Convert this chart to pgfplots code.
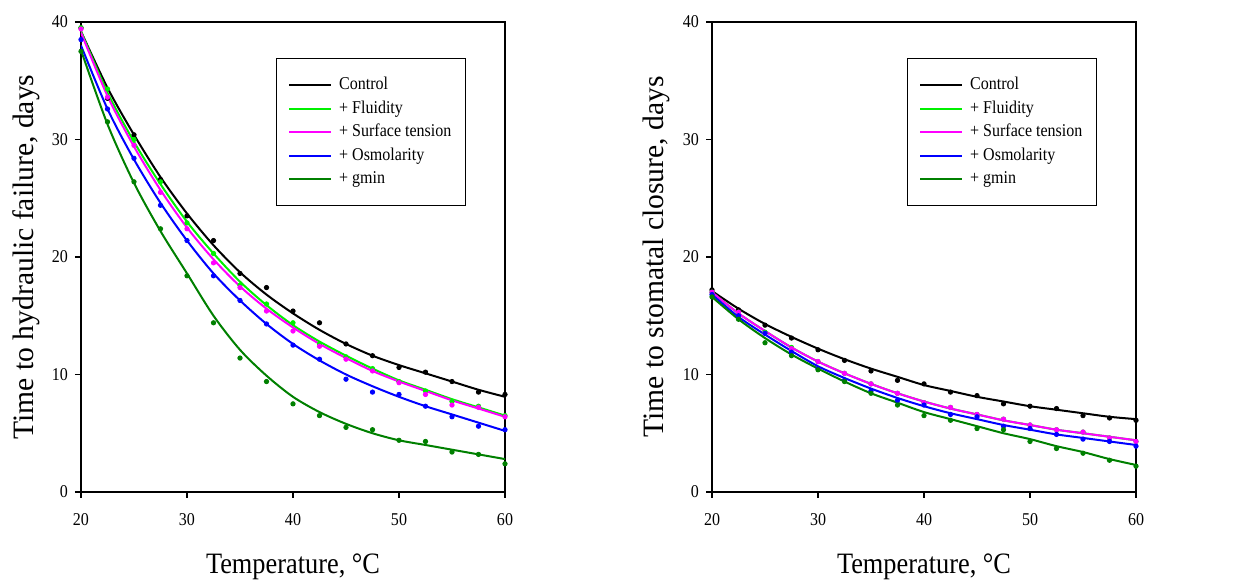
\documentclass[border=0pt]{standalone}
\usepackage{fontspec}
\setmainfont{Liberation Serif}[FakeStretch=0.89]
\newfontfamily\yfont{Liberation Serif}
\usepackage{pgfplots}
\usepackage{pgfplotstable}
\pgfplotsset{compat=1.18}

\definecolor{cCtl}{RGB}{0,0,0}
\definecolor{cFlu}{RGB}{0,240,0}
\definecolor{cSur}{RGB}{255,0,255}
\definecolor{cOsm}{RGB}{0,0,255}
\definecolor{cGmn}{RGB}{0,128,0}

% measured points, hydraulic failure
\pgfplotstableread{
T    c    f    s    o    g
20   39.5 39.5 39.4 38.5 37.5
22.5 33.5 34.3 33.6 32.6 31.5
25   30.4 30.0 29.5 28.4 26.4
27.5 26.6 26.4 25.5 24.4 22.4
30   23.5 22.9 22.4 21.4 18.4
32.5 21.4 20.3 19.5 18.4 14.4
35   18.6 17.6 17.4 16.3 11.4
37.5 17.4 16.0 15.4 14.3 9.4
40   15.4 14.4 13.7 12.5 7.5
42.5 14.4 12.6 12.4 11.3 6.5
45   12.6 11.5 11.3 9.6  5.5
47.5 11.6 10.5 10.3 8.5  5.3
50   10.6 9.4  9.3  8.3  4.4
52.5 10.2 8.6  8.3  7.3  4.3
55   9.4  7.7  7.4  6.4  3.4
57.5 8.5  7.3  7.2  5.6  3.2
60   8.3  6.5  6.4  5.3  2.4
}\ptsA
% fitted curves, hydraulic failure
\pgfplotstableread{
T    c    f    s    o    g
20   39.2 39.2 39.1 38.0 37.6
22.5 34.4 34.0 33.7 32.6 31.3
25   30.4 29.8 29.4 28.3 26.3
27.5 26.8 26.2 25.7 24.6 22.2
30   23.7 23.0 22.5 21.4 18.6
32.5 21.0 20.3 19.8 18.6 15.0
35   18.7 17.9 17.5 16.3 12.1
37.5 16.8 15.9 15.6 14.3 9.9
40   15.2 14.2 14.0 12.6 8.1
42.5 13.8 12.8 12.6 11.2 6.8
45   12.6 11.6 11.4 10.0 5.8
47.5 11.6 10.5 10.3 9.0  5.0
50   10.8 9.5  9.4  8.1  4.4
52.5 10.1 8.7  8.6  7.3  4.0
55   9.4  7.9  7.8  6.6  3.6
57.5 8.7  7.2  7.1  5.9  3.2
60   8.1  6.5  6.4  5.2  2.8
}\fitA
% measured points, stomatal closure
\pgfplotstableread{
T    c    f    s    o    g
20   17.2 17.0 17.0 16.8 16.6
22.5 15.5 15.3 15.3 15.0 14.7
25   14.2 13.6 13.5 13.5 12.7
27.5 13.1 12.3 12.2 11.9 11.6
30   12.1 11.1 11.1 10.5 10.4
32.5 11.2 10.1 10.1 9.5  9.4
35   10.3 9.2  9.2  8.6  8.4
37.5 9.5  8.4  8.4  7.8  7.4
40   9.2  7.6  7.6  7.4  6.5
42.5 8.5  7.2  7.2  6.6  6.1
45   8.2  6.6  6.6  6.4  5.4
47.5 7.5  6.2  6.2  5.6  5.3
50   7.3  5.7  5.7  5.4  4.3
52.5 7.1  5.3  5.3  4.9  3.7
55   6.5  5.1  5.1  4.5  3.3
57.5 6.3  4.6  4.6  4.3  2.7
60   6.1  4.3  4.3  3.9  2.2
}\ptsB
% fitted curves, stomatal closure
\pgfplotstableread{
T    c    f    s    o    g
20   17.1 17.0 17.0 16.8 16.6
22.5 15.6 15.2 15.2 14.9 14.7
25   14.3 13.7 13.7 13.4 13.1
27.5 13.2 12.3 12.3 12.0 11.7
30   12.2 11.1 11.1 10.7 10.5
32.5 11.3 10.1 10.1 9.7  9.4
35   10.5 9.2  9.2  8.8  8.4
37.5 9.8  8.4  8.4  8.0  7.6
40   9.1  7.7  7.7  7.3  6.8
42.5 8.6  7.1  7.1  6.7  6.2
45   8.1  6.6  6.6  6.2  5.6
47.5 7.7  6.1  6.1  5.7  5.0
50   7.3  5.7  5.7  5.3  4.5
52.5 7.0  5.3  5.3  4.9  3.9
55   6.7  5.0  5.0  4.6  3.4
57.5 6.4  4.7  4.7  4.3  2.8
60   6.2  4.4  4.4  4.0  2.3
}\fitB

\pgfplotsset{
  panel/.style={
    scale only axis,
    width=212pt, height=235pt,
    xmin=20, xmax=60, ymin=0, ymax=40,
    xtick={20,30,...,60}, ytick={0,10,...,40},
    tick align=outside, xtick pos=left, ytick pos=left,
    major tick length=3pt,
    axis line style={line width=0.6pt},
    tick style={line width=0.6pt, black},
    ticklabel style={font=\fontsize{9}{10}\selectfont},
    xticklabel style={yshift=-4pt},
    /pgf/number format/assume math mode=true,
    xlabel={Temperature, °C},
    xlabel style={at={(axis description cs:0.5,-0.16)}, anchor=center,
      font=\fontsize{14.8}{16}\selectfont},
    ylabel style={at={(axis description cs:-0.13,0.5)}, anchor=center,
      rotate=0, font=\yfont\fontsize{14.8}{16}\selectfont},
    legend style={at={(axis description cs:0.908,0.923)}, anchor=north east,
      draw=black, line width=0.6pt, inner xsep=6pt, inner ysep=7.2pt,
      font=\fontsize{9}{10}\selectfont, row sep=0pt,
      nodes={inner xsep=1pt, inner ysep=1.4pt, text height=6.8pt, text depth=2.2pt},
      /tikz/every odd column/.append style={column sep=2.5pt}},
    legend cell align=left,
    legend image code/.code={\draw[#1, line width=1pt] (0pt,0pt) -- (21pt,0pt);},
  },
  fit/.style={line width=1pt, smooth, no marks},
  pts/.style={only marks, mark=*, mark size=1.1pt, forget plot},
}

\begin{document}
\begin{tikzpicture}
\path[use as bounding box] (0,0) rectangle (623pt,290.5pt);

\begin{axis}[panel, at={(40.5pt,44.5pt)}, anchor=south west,
  ylabel={Time to hydraulic failure, days}]
  \addplot[fit, cCtl] table[x=T, y=c] {\fitA};
  \addplot[fit, cFlu] table[x=T, y=f] {\fitA};
  \addplot[fit, cSur] table[x=T, y=s] {\fitA};
  \addplot[fit, cOsm] table[x=T, y=o] {\fitA};
  \addplot[fit, cGmn] table[x=T, y=g] {\fitA};
  \addplot[pts, cCtl] table[x=T, y=c] {\ptsA};
  \addplot[pts, cFlu] table[x=T, y=f] {\ptsA};
  \addplot[pts, cSur] table[x=T, y=s] {\ptsA};
  \addplot[pts, cOsm] table[x=T, y=o] {\ptsA};
  \addplot[pts, cGmn] table[x=T, y=g] {\ptsA};
  \legend{Control,+ Fluidity,+ Surface tension,+ Osmolarity,+ gmin}
\end{axis}

\begin{axis}[panel, at={(356pt,44.5pt)}, anchor=south west,
  ylabel={Time to stomatal closure, days}]
  \addplot[fit, cCtl] table[x=T, y=c] {\fitB};
  \addplot[fit, cFlu] table[x=T, y=f] {\fitB};
  \addplot[fit, cSur] table[x=T, y=s] {\fitB};
  \addplot[fit, cOsm] table[x=T, y=o] {\fitB};
  \addplot[fit, cGmn] table[x=T, y=g] {\fitB};
  \addplot[pts, cCtl] table[x=T, y=c] {\ptsB};
  \addplot[pts, cFlu] table[x=T, y=f] {\ptsB};
  \addplot[pts, cSur] table[x=T, y=s] {\ptsB};
  \addplot[pts, cOsm] table[x=T, y=o] {\ptsB};
  \addplot[pts, cGmn] table[x=T, y=g] {\ptsB};
  \legend{Control,+ Fluidity,+ Surface tension,+ Osmolarity,+ gmin}
\end{axis}
\end{tikzpicture}
\end{document}
